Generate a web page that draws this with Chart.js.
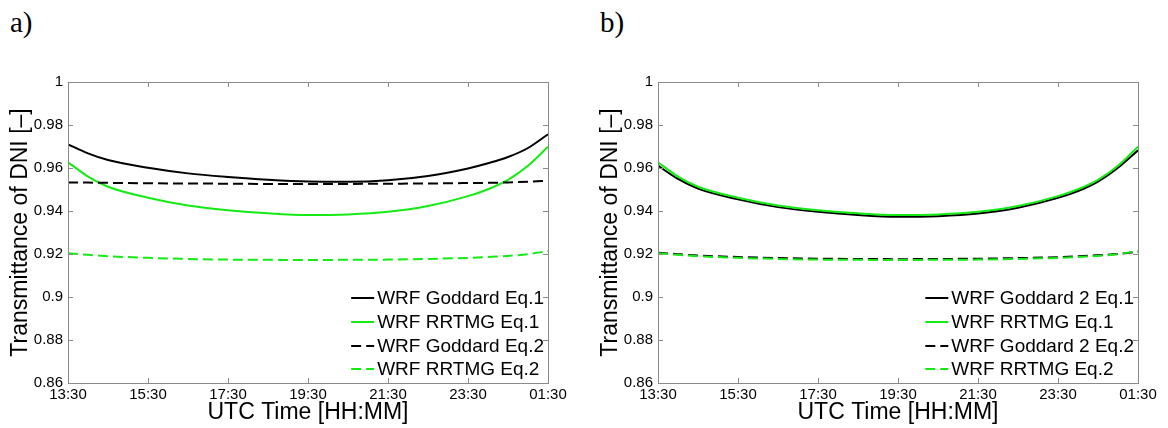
<!DOCTYPE html>
<html>
<head>
<meta charset="utf-8">
<script src="https://cdn.jsdelivr.net/npm/chart.js@4.4.1/dist/chart.umd.min.js"></script>
<style>
  body { margin: 0; background: #fff; width: 1168px; height: 428px; position: relative; overflow: hidden; }
  .panel { position: absolute; top: 0; height: 428px; }
  .tag { position: absolute; top: 8px; font-family: "Liberation Serif", "Times New Roman", serif; font-size: 29px; line-height: 1; color: #000; }
</style>
</head>
<body>
<div class="tag" style="left:10px">a)</div>
<div class="tag" style="left:600px">b)</div>
<div class="panel" style="left:0;width:584px"><canvas id="chartA"></canvas></div>
<div class="panel" style="left:590px;width:578px"><canvas id="chartB"></canvas></div>
<script>
// time in hours since midnight (25.5 = 01:30 next day)
const timeHours = [13.5, 14, 14.5, 15.5, 16.5, 17.5, 18.5, 19.5, 20.5, 21.5, 22.5, 23.5, 24, 24.5, 25, 25.5];
const xTicks = [13.5, 15.5, 17.5, 19.5, 21.5, 23.5, 25.5];
const yTicks = [0.86, 0.88, 0.9, 0.92, 0.94, 0.96, 0.98, 1];

// panel a
const goddardEq1 = [0.9710, 0.9668, 0.9637, 0.9601, 0.9575, 0.9558, 0.9545, 0.9537, 0.9536, 0.9543, 0.9563, 0.9598, 0.9622, 0.9651, 0.9693, 0.9757];
const rrtmgEq1 = [0.9627, 0.9560, 0.9513, 0.9462, 0.9426, 0.9404, 0.9389, 0.9381, 0.9384, 0.9396, 0.9423, 0.9469, 0.9501, 0.9545, 0.9610, 0.9699];
const goddardEq2 = [0.9533, 0.9532, 0.9531, 0.9529, 0.9528, 0.9527, 0.9526, 0.9526, 0.9526, 0.9527, 0.9528, 0.9530, 0.9531, 0.9533, 0.9536, 0.9541];
const rrtmgEq2 = [0.9203, 0.9196, 0.9190, 0.9182, 0.9177, 0.9174, 0.9173, 0.9172, 0.9173, 0.9174, 0.9177, 0.9182, 0.9186, 0.9191, 0.9199, 0.9214];

// panel b
const goddard2Eq1 = [0.9611, 0.9549, 0.9504, 0.9454, 0.9418, 0.9396, 0.9381, 0.9373, 0.9376, 0.9388, 0.9415, 0.9461, 0.9493, 0.9537, 0.9601, 0.9682];
const goddard2Eq2 = [0.9206, 0.9199, 0.9193, 0.9186, 0.9181, 0.9178, 0.9177, 0.9176, 0.9177, 0.9178, 0.9181, 0.9185, 0.9189, 0.9194, 0.9200, 0.9210];

const BLACK = "#000000";
const GREEN = "rgb(20,235,20)";
const DASH = [10, 5];

Chart.defaults.font.family = "'Liberation Sans', Arial, sans-serif";
Chart.defaults.color = "#000";

function fmtTime(h) {
    const hh = Math.floor(h) % 24;
    const mm = Math.round((h - Math.floor(h)) * 60);
    return String(hh).padStart(2, "0") + ":" + String(mm).padStart(2, "0");
}

function series(label, values, color, dashed, idx) {
    return {
        label: label,
        data: values.map((v, i) => ({ x: timeHours[i], y: v })),
        borderColor: color,
        backgroundColor: color,
        borderWidth: 2,
        borderDash: dashed ? DASH : [],
        pointRadius: 0,
        cubicInterpolationMode: "monotone",
        fill: false,
        order: 3 - idx,
    };
}

// box round the plot with inward ticks, matlab style
const framePlugin = {
    id: "frame",
    afterDraw(chart) {
        const { ctx, chartArea: a, scales } = chart;
        ctx.save();
        ctx.strokeStyle = "#8a8a8a";
        ctx.lineWidth = 1;
        ctx.strokeRect(a.left + 0.5, a.top + 0.5, a.right - a.left, a.bottom - a.top);
        ctx.beginPath();
        xTicks.forEach((t) => {
            const x = Math.round(scales.x.getPixelForValue(t)) + 0.5;
            ctx.moveTo(x, a.top); ctx.lineTo(x, a.top + 5);
            ctx.moveTo(x, a.bottom); ctx.lineTo(x, a.bottom - 5);
        });
        yTicks.forEach((t) => {
            const y = Math.round(scales.y.getPixelForValue(t)) + 0.5;
            ctx.moveTo(a.left, y); ctx.lineTo(a.left + 5, y);
            ctx.moveTo(a.right, y); ctx.lineTo(a.right - 5, y);
        });
        ctx.stroke();
        ctx.restore();
    },
};

// legend inside bottom right, no box
const insideLegend = {
    id: "insideLegend",
    afterDatasetsDraw(chart) {
        const { ctx, chartArea: a } = chart;
        const sets = chart.data.datasets;
        ctx.save();
        ctx.font = "19px 'Liberation Sans', Arial, sans-serif";
        const w = Math.max(...sets.map((d) => ctx.measureText(d.label).width));
        const textX = a.right - 4 - w;
        const rowY = [a.bottom - 85, a.bottom - 61, a.bottom - 37, a.bottom - 14];
        sets.forEach((d, i) => {
            const y = rowY[i];
            ctx.strokeStyle = d.borderColor;
            ctx.lineWidth = 2;
            ctx.setLineDash(d.borderDash);
            ctx.beginPath();
            ctx.moveTo(textX - 26, y);
            ctx.lineTo(textX - 3, y);
            ctx.stroke();
            ctx.setLineDash([]);
            ctx.fillStyle = "#000";
            ctx.textBaseline = "middle";
            ctx.textAlign = "left";
            ctx.fillText(d.label, textX, y + 1);
        });
        ctx.restore();
    },
};

function makeChart(id, datasets, rightPad) {
    const ctx = document.getElementById(id).getContext("2d");
    return new Chart(ctx, {
        type: "line",
        data: { datasets: datasets },
        options: {
            responsive: true,
            maintainAspectRatio: false,
            animation: false,
            layout: { padding: { top: 82, right: rightPad, left: 0, bottom: 0 } },
            plugins: { legend: { display: false }, tooltip: { enabled: false } },
            scales: {
                x: {
                    type: "linear",
                    min: 13.5,
                    max: 25.5,
                    afterBuildTicks: (s) => { s.ticks = xTicks.map((v) => ({ value: v })); },
                    afterFit: (s) => { s.height = 45; },
                    grid: { display: false, drawTicks: false },
                    border: { display: false },
                    ticks: { callback: (v) => fmtTime(v), font: { size: 15 }, padding: 3, maxRotation: 0, autoSkip: false },
                    title: { display: true, text: "UTC Time [HH:MM]", font: { size: 23 }, padding: { top: 0, bottom: 2 } },
                },
                y: {
                    min: 0.86,
                    max: 1,
                    afterBuildTicks: (s) => { s.ticks = yTicks.map((v) => ({ value: v })); },
                    afterFit: (s) => { s.width = 68; },
                    grid: { display: false, drawTicks: false },
                    border: { display: false },
                    ticks: { callback: (v) => String(Number(v.toFixed(2))), font: { size: 15 }, padding: 5 },
                    title: { display: true, text: "Transmittance of DNI [\u2013]", font: { size: 23 }, padding: { top: 7, bottom: 0 } },
                },
            },
        },
        plugins: [framePlugin, insideLegend],
    });
}

makeChart("chartA", [
    series("WRF Goddard Eq.1", goddardEq1, BLACK, false, 0),
    series("WRF RRTMG Eq.1", rrtmgEq1, GREEN, false, 1),
    series("WRF Goddard Eq.2", goddardEq2, BLACK, true, 2),
    series("WRF RRTMG Eq.2", rrtmgEq2, GREEN, true, 3),
], 36);

makeChart("chartB", [
    series("WRF Goddard 2 Eq.1", goddard2Eq1, BLACK, false, 0),
    series("WRF RRTMG Eq.1", rrtmgEq1, GREEN, false, 1),
    series("WRF Goddard 2 Eq.2", goddard2Eq2, BLACK, true, 2),
    series("WRF RRTMG Eq.2", rrtmgEq2, GREEN, true, 3),
], 30);
</script>
</body>
</html>
